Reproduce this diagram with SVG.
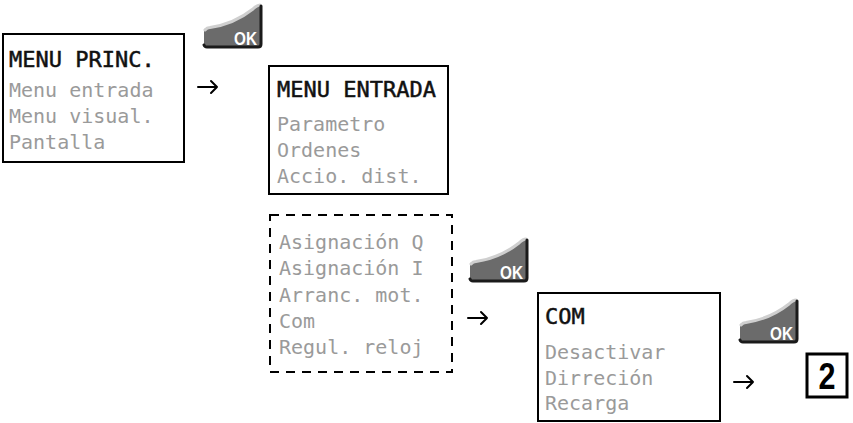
<svg xmlns="http://www.w3.org/2000/svg" xmlns:xlink="http://www.w3.org/1999/xlink" width="853" height="423" viewBox="0 0 853 423">
<style>
.box{fill:#fff;stroke:#000;stroke-width:2}
.dash{fill:none;stroke:#000;stroke-width:2;stroke-dasharray:9 7}
.hd{font-family:"DejaVu Sans Mono","Liberation Mono",monospace;font-size:22px;fill:#111;stroke:#111;stroke-width:0.5}
.it{font-family:"DejaVu Sans Mono","Liberation Mono",monospace;font-size:20px;fill:#9a9a9a}
.arr{fill:none;stroke:#000;stroke-width:2;stroke-linecap:round;stroke-linejoin:round}
</style>
<defs>
<g id="okbtn">
<path d="M3 24 Q30 20 49 5 Q53 1 57 1 L57 40 Q57 43 54 43 L3 43 Q0 43 0 40 L0 27 Q0 24 3 24 Z" fill="#6b6b6b"/>
<path d="M1 26 Q3 23.5 6 23.5 Q30 20 49 5 Q53 1 56 1" fill="none" stroke="#cfcfcf" stroke-width="3" stroke-linecap="round"/>
<path d="M57 2 L57 40 Q57 43 54 43 L3 43 Q0.5 43 0 41" fill="none" stroke="#1a1a1a" stroke-width="3" stroke-linecap="round"/>
<text x="53" y="41" text-anchor="end" font-family="Liberation Sans,Arial,sans-serif" font-weight="bold" font-size="19" fill="#fff" textLength="23" lengthAdjust="spacingAndGlyphs">OK</text>
</g>
</defs>
<rect width="853" height="423" fill="#fff"/>

<g id="menu-princ">
<rect class="box" x="3" y="34" width="181" height="128"/>
<text class="hd" x="9" y="67">MENU PRINC.</text>
<text class="it" x="9" y="97">Menu entrada</text>
<text class="it" x="9" y="123">Menu visual.</text>
<text class="it" x="9" y="149">Pantalla</text>
</g>

<g id="ok1"><use xlink:href="#okbtn" x="204" y="4"/></g>

<g id="menu-entrada">
<rect class="box" x="269" y="66" width="179" height="128"/>
<text class="hd" x="277" y="97">MENU ENTRADA</text>
<text class="it" x="277" y="131">Parametro</text>
<text class="it" x="277" y="157">Ordenes</text>
<text class="it" x="277" y="183">Accio. dist.</text>
</g>

<g id="submenu-list">
<rect class="dash" x="270" y="215" width="182" height="157"/>
<text class="it" x="279" y="249">Asignación Q</text>
<text class="it" x="279" y="275">Asignación I</text>
<text class="it" x="279" y="302">Arranc. mot.</text>
<text class="it" x="279" y="328">Com</text>
<text class="it" x="279" y="354">Regul. reloj</text>
</g>

<g id="ok2"><use xlink:href="#okbtn" x="470" y="238"/></g>

<g id="com">
<rect class="box" x="538" y="293" width="182" height="128"/>
<text class="hd" x="545" y="324">COM</text>
<text class="it" x="545" y="359">Desactivar</text>
<text class="it" x="545" y="385">Dirreción</text>
<text class="it" x="545" y="410">Recarga</text>
</g>

<g id="ok3"><use xlink:href="#okbtn" x="740" y="299"/></g>

<g id="step-2">
<rect x="807" y="354" width="40" height="43" fill="#fff" stroke="#000" stroke-width="3"/>
<text x="827" y="389" text-anchor="middle" font-family="Liberation Sans,Arial,sans-serif" font-weight="bold" font-size="37" fill="#000" textLength="17" lengthAdjust="spacingAndGlyphs">2</text>
</g>

<g id="connectors">
<path class="arr" d="M198 87 H217 M211 81 L217 87 L211 93"/>
<path class="arr" d="M468 318 H487 M481 312 L487 318 L481 324"/>
<path class="arr" d="M734 382 H753 M747 376 L753 382 L747 388"/>
</g>
</svg>
